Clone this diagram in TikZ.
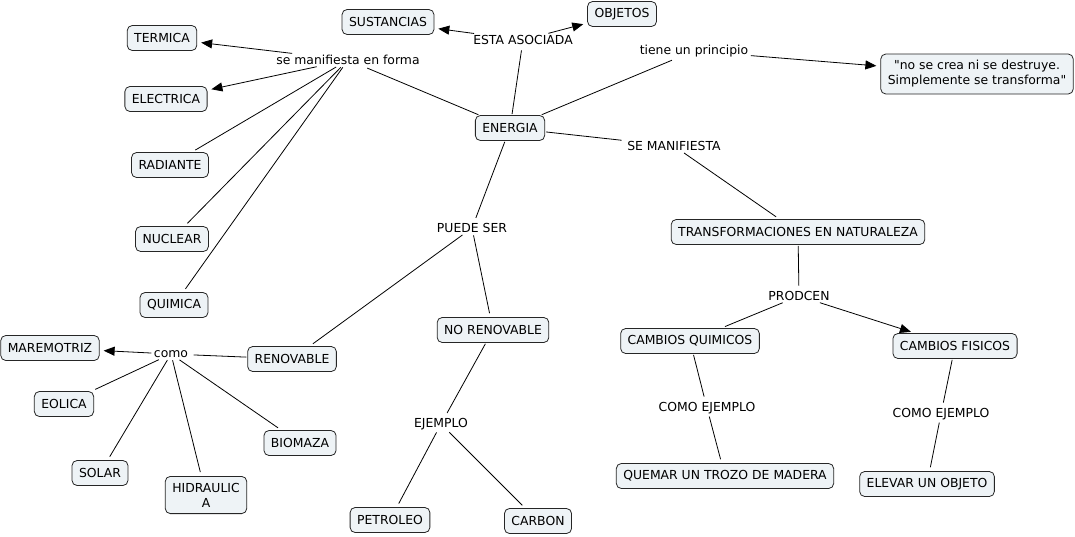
\documentclass[tikz,border=0pt]{standalone}
\usepackage{fontspec}
\newfontfamily\cmapfont{DejaVu Sans}
\usetikzlibrary{arrows.meta}
\definecolor{cmapfill}{RGB}{238,243,246}
\begin{document}
\begin{tikzpicture}[x=1pt,y=-1pt,
  concept/.style={draw=black!85,fill=cmapfill,rounded corners=5pt,line width=0.8pt,
    inner xsep=7pt,inner ysep=6.5pt,minimum height=25pt,align=center,font=\cmapfont\fontsize{12.4}{15}\selectfont},
  link/.style={fill=white,inner sep=1.5pt,font=\cmapfont\fontsize{12.4}{15}\selectfont},
  line/.style={line width=0.8pt,shorten >=4pt,shorten <=1pt},
  arrow/.style={line,-{Triangle[length=11pt,width=9pt]}}]
\useasboundingbox (0,0) rectangle (1075,536);
% concepts
\node[concept] (energia) at (510,128) {ENERGIA};
\node[concept] (termica) at (162,38) {TERMICA};
\node[concept] (electrica) at (166,99) {ELECTRICA};
\node[concept] (radiante) at (170,165) {RADIANTE};
\node[concept] (nuclear) at (172,239) {NUCLEAR};
\node[concept] (quimica) at (174,305) {QUIMICA};
\node[concept] (sustancias) at (388,22) {SUSTANCIAS};
\node[concept] (objetos) at (622,14) {OBJETOS};
\node[concept] (principio) at (977,74) {"no se crea ni se destruye.\\Simplemente se transforma"};
\node[concept] (transf) at (798,232) {TRANSFORMACIONES EN NATURALEZA};
\node[concept] (quimicos) at (690,341) {CAMBIOS QUIMICOS};
\node[concept] (fisicos) at (955,346) {CAMBIOS FISICOS};
\node[concept] (quemar) at (725,476) {QUEMAR UN TROZO DE MADERA};
\node[concept] (elevar) at (927,484) {ELEVAR UN OBJETO};
\node[concept] (norenov) at (493,330) {NO RENOVABLE};
\node[concept] (petroleo) at (390,520) {PETROLEO};
\node[concept] (carbon) at (538,521) {CARBON};
\node[concept] (renov) at (292,359) {RENOVABLE};
\node[concept] (maremotriz) at (50,348) {MAREMOTRIZ};
\node[concept] (eolica) at (64,404) {EOLICA};
\node[concept] (solar) at (100,473) {SOLAR};
\node[concept] (hidraulica) at (206,495) {HIDRAULIC\\A};
\node[concept] (biomaza) at (300,443) {BIOMAZA};
% linking phrases
\node[link] (enforma) at (348,60) {se manifiesta en forma};
\node[link] (asociada) at (523,40) {ESTA ASOCIADA};
\node[link] (tiene) at (694,51) {tiene un principio};
\node[link] (semanif) at (674,146) {SE MANIFIESTA};
\node[link] (puede) at (472,228) {PUEDE SER};
\node[link] (prodcen) at (799,296) {PRODCEN};
\node[link] (como) at (171,354) {como};
\node[link] (ejemplo) at (441,424) {EJEMPLO};
\node[link] (ejq) at (707,408) {COMO EJEMPLO};
\node[link] (ejf) at (941,414) {COMO EJEMPLO};
% connectors
\draw[line] (energia) -- (enforma);
\draw[arrow] (enforma) -- (termica);
\draw[arrow] (enforma) -- (electrica);
\draw[line] (enforma) -- (radiante);
\draw[line] (enforma) -- (nuclear);
\draw[line] (enforma) -- (quimica);
\draw[line] (energia) -- (asociada);
\draw[arrow] (asociada) -- (sustancias);
\draw[arrow] (asociada) -- (objetos);
\draw[line] (energia) -- (tiene);
\draw[arrow] (tiene) -- (principio);
\draw[line] (energia) -- (semanif);
\draw[line] (semanif) -- (transf);
\draw[line] (energia) -- (puede);
\draw[line] (puede) -- (renov);
\draw[line] (puede) -- (norenov);
\draw[line] (transf) -- (prodcen);
\draw[line] (prodcen) -- (quimicos);
\draw[arrow] (prodcen) -- (fisicos);
\draw[line] (quimicos) -- (ejq);
\draw[line] (ejq) -- (quemar);
\draw[line] (fisicos) -- (ejf);
\draw[line] (ejf) -- (elevar);
\draw[line] (norenov) -- (ejemplo);
\draw[line] (ejemplo) -- (petroleo);
\draw[line] (ejemplo) -- (carbon);
\draw[line] (renov) -- (como);
\draw[arrow] (como) -- (maremotriz);
\draw[line] (como) -- (eolica);
\draw[line] (como) -- (solar);
\draw[line] (como) -- (hidraulica);
\draw[line] (como) -- (biomaza);
\end{tikzpicture}
\end{document}
